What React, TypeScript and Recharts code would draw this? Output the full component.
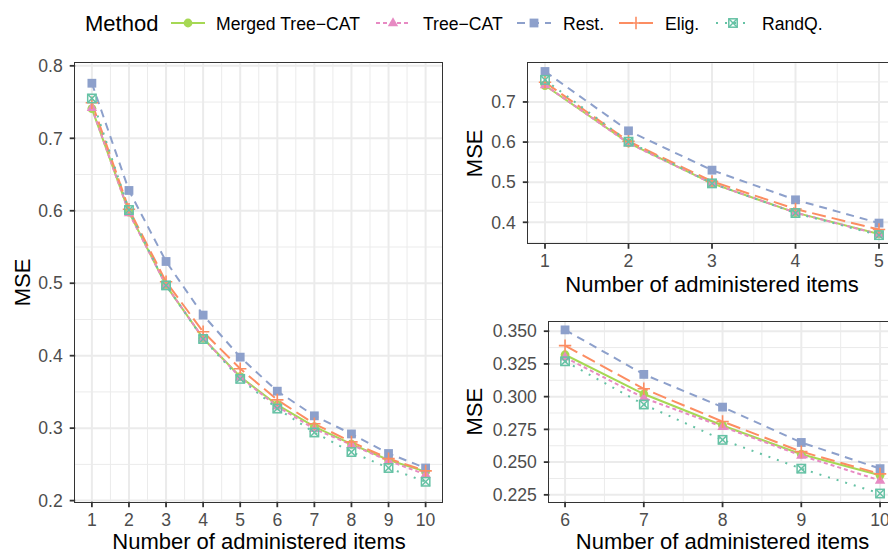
import React from "react";
import { LineChart, Line, XAxis, YAxis, CartesianGrid } from "recharts";

// number of administered items
const items = [1, 2, 3, 4, 5, 6, 7, 8, 9, 10];

// MSE per method
const mergedTreeCat = [0.741, 0.598, 0.497, 0.424, 0.371, 0.332, 0.302, 0.278, 0.256, 0.24];
const treeCat = [0.742, 0.597, 0.497, 0.424, 0.37, 0.33, 0.299, 0.277, 0.255, 0.236];
const rest = [0.776, 0.628, 0.53, 0.456, 0.398, 0.351, 0.317, 0.292, 0.265, 0.245];
const elig = [0.749, 0.602, 0.502, 0.433, 0.382, 0.339, 0.306, 0.281, 0.258, 0.241];
const randQ = [0.755, 0.601, 0.497, 0.423, 0.368, 0.327, 0.294, 0.267, 0.245, 0.226];

// ticks
const leftYTicks = [0.2, 0.3, 0.4, 0.5, 0.6, 0.7, 0.8];
const leftYMinor = [0.25, 0.35, 0.45, 0.55, 0.65, 0.75];
const leftXMinor = [1.5, 2.5, 3.5, 4.5, 5.5, 6.5, 7.5, 8.5, 9.5];
const topXTicks = [1, 2, 3, 4, 5];
const topXMinor = [1.5, 2.5, 3.5, 4.5];
const topYTicks = [0.4, 0.5, 0.6, 0.7];
const topYMinor = [0.35, 0.45, 0.55, 0.65, 0.75];
const bottomXTicks = [6, 7, 8, 9, 10];
const bottomXMinor = [6.5, 7.5, 8.5, 9.5];
const bottomYTicks = [0.225, 0.25, 0.275, 0.3, 0.325, 0.35];
const bottomYMinor = [0.2375, 0.2625, 0.2875, 0.3125, 0.3375];

const series = [
  { key: "merged", name: "Merged Tree\u2212CAT", color: "#A6D854", dash: undefined, shape: "circle" },
  { key: "tree", name: "Tree\u2212CAT", color: "#E78AC3", dash: "4 3", shape: "triangle" },
  { key: "rest", name: "Rest.", color: "#8DA0CB", dash: "8 6", shape: "square" },
  { key: "elig", name: "Elig.", color: "#FC8D62", dash: "14 6", shape: "plus" },
  { key: "randq", name: "RandQ.", color: "#66C2A5", dash: "2 7", shape: "squarex" },
];

const rows = items.map((x, i) => ({
  x,
  merged: mergedTreeCat[i],
  tree: treeCat[i],
  rest: rest[i],
  elig: elig[i],
  randq: randQ[i],
}));

const FONT = '"Liberation Sans", Arial, Helvetica, sans-serif';

// ggplot-like 5% expansion
function expand(vals: number[]): [number, number] {
  const lo = Math.min(...vals);
  const hi = Math.max(...vals);
  const pad = (hi - lo) * 0.05;
  return [lo - pad, hi + pad];
}

function Marker({ shape, cx, cy, color }: any) {
  if (shape === "circle") return <circle cx={cx} cy={cy} r={4.4} fill={color} />;
  if (shape === "triangle")
    return (
      <polygon
        points={`${cx},${cy - 5.8} ${cx - 5.2},${cy + 3.2} ${cx + 5.2},${cy + 3.2}`}
        fill={color}
      />
    );
  if (shape === "square")
    return <rect x={cx - 4.4} y={cy - 4.4} width={8.8} height={8.8} fill={color} />;
  if (shape === "plus")
    return (
      <g stroke={color} strokeWidth={1.6}>
        <line x1={cx - 6.2} y1={cy} x2={cx + 6.2} y2={cy} />
        <line x1={cx} y1={cy - 6.2} x2={cx} y2={cy + 6.2} />
      </g>
    );
  return (
    <g stroke={color} strokeWidth={1.5} fill="none">
      <rect x={cx - 4.2} y={cy - 4.2} width={8.4} height={8.4} />
      <line x1={cx - 4.2} y1={cy - 4.2} x2={cx + 4.2} y2={cy + 4.2} />
      <line x1={cx - 4.2} y1={cy + 4.2} x2={cx + 4.2} y2={cy - 4.2} />
    </g>
  );
}

const makeDot = (shape: string, color: string) => (props: any) => {
  const { cx, cy, index } = props;
  if (cx == null || cy == null) return <g key={`e-${shape}-${index}`} />;
  return (
    <g key={`${shape}-${index}`}>
      <Marker shape={shape} cx={cx} cy={cy} color={color} />
    </g>
  );
};

function Panel({ data, box, plot, xTicks, xMinor, yTicks, yMinor, digits }: any) {
  const xDomain = expand(data.map((d: any) => d.x));
  const yDomain = expand(
    data.flatMap((d: any) => series.map((s) => d[s.key] as number))
  );
  const tickStyle = { fill: "#4D4D4D", fontSize: 17.6, fontFamily: FONT };
  return (
    <>
      <div style={{ position: "absolute", left: box.left, top: box.top }}>
        <LineChart
          width={box.width}
          height={box.height}
          data={data}
          margin={{ top: plot.y0 - box.top, right: box.left + box.width - plot.x1, bottom: 0, left: 0 }}
        >
          <CartesianGrid horizontalValues={yMinor} verticalValues={xMinor} stroke="#EBEBEB" strokeWidth={1} />
          <CartesianGrid horizontalValues={yTicks} verticalValues={xTicks} stroke="#EBEBEB" strokeWidth={2} />
          <XAxis
            dataKey="x"
            type="number"
            domain={xDomain}
            ticks={xTicks}
            interval={0}
            allowDataOverflow
            height={box.top + box.height - plot.y1}
            axisLine={false}
            tickLine={{ stroke: "#333333", strokeWidth: 1.8 }}
            tickSize={5.5}
            tickMargin={6}
            tick={tickStyle}
          />
          <YAxis
            type="number"
            domain={yDomain}
            ticks={yTicks}
            interval={0}
            allowDataOverflow
            width={plot.x0 - box.left}
            axisLine={false}
            tickLine={{ stroke: "#333333", strokeWidth: 1.8 }}
            tickSize={5.5}
            tickMargin={7}
            tick={tickStyle}
            tickFormatter={(v: number) => v.toFixed(digits)}
          />
          {series.map((s) => (
            <Line
              key={`l-${s.key}`}
              dataKey={s.key}
              stroke={s.color}
              strokeWidth={2}
              strokeDasharray={s.dash}
              dot={false}
              activeDot={false}
              isAnimationActive={false}
            />
          ))}
          {series.map((s) => (
            <Line
              key={`p-${s.key}`}
              dataKey={s.key}
              stroke="none"
              dot={makeDot(s.shape, s.color)}
              activeDot={false}
              isAnimationActive={false}
            />
          ))}
        </LineChart>
      </div>
      <div
        style={{
          position: "absolute",
          left: plot.x0 - 0.9,
          top: plot.y0 - 0.9,
          width: plot.x1 - plot.x0 + 1.8,
          height: plot.y1 - plot.y0 + 1.8,
          border: "1.8px solid #333333",
          boxSizing: "border-box",
          pointerEvents: "none",
        }}
      />
    </>
  );
}

const legendKeys = [188, 393, 534, 636, 733];
const legendLabels = [216, 423, 563, 665, 762];

export default function App() {
  return (
    <div
      style={{
        position: "fixed",
        left: 0,
        top: 0,
        width: 888,
        height: 554,
        overflow: "hidden",
        background: "#ffffff",
        fontFamily: FONT,
      }}
    >
      <Panel
        data={rows}
        box={{ left: 0, top: 40, width: 460, height: 514 }}
        plot={{ x0: 75.2, x1: 442.3, y0: 63.3, y1: 501.7 }}
        xTicks={items}
        xMinor={leftXMinor}
        yTicks={leftYTicks}
        yMinor={leftYMinor}
        digits={1}
      />
      <Panel
        data={rows.slice(0, 5)}
        box={{ left: 460, top: 40, width: 440, height: 250 }}
        plot={{ x0: 528.3, x1: 895.7, y0: 63.3, y1: 243.3 }}
        xTicks={topXTicks}
        xMinor={topXMinor}
        yTicks={topYTicks}
        yMinor={topYMinor}
        digits={1}
      />
      <Panel
        data={rows.slice(5)}
        box={{ left: 460, top: 300, width: 440, height: 254 }}
        plot={{ x0: 549.3, x1: 895.8, y0: 321.7, y1: 501.7 }}
        xTicks={bottomXTicks}
        xMinor={bottomXMinor}
        yTicks={bottomYTicks}
        yMinor={bottomYMinor}
        digits={3}
      />
      <svg
        width={888}
        height={554}
        style={{ position: "absolute", left: 0, top: 0, pointerEvents: "none" }}
        fontFamily={FONT}
      >
        <text x={85} y={31} fontSize={22} fill="#000">Method</text>
        {series.map((s, i) => (
          <g key={s.key}>
            <line
              x1={legendKeys[i] - 17}
              x2={legendKeys[i] + 17}
              y1={23}
              y2={23}
              stroke={s.color}
              strokeWidth={2}
              strokeDasharray={s.dash}
            />
            <Marker shape={s.shape} cx={legendKeys[i]} cy={23} color={s.color} />
            <text x={legendLabels[i]} y={29.5} fontSize={17.6} fill="#000">{s.name}</text>
          </g>
        ))}
        <text x={259} y={549.3} fontSize={22} textAnchor="middle" fill="#000">Number of administered items</text>
        <text x={712} y={292} fontSize={22} textAnchor="middle" fill="#000">Number of administered items</text>
        <text x={722.5} y={549.3} fontSize={22} textAnchor="middle" fill="#000">Number of administered items</text>
        <text transform="translate(29.5,282.5) rotate(-90)" fontSize={22} textAnchor="middle" fill="#000">MSE</text>
        <text transform="translate(482,153.3) rotate(-90)" fontSize={22} textAnchor="middle" fill="#000">MSE</text>
        <text transform="translate(482,411.7) rotate(-90)" fontSize={22} textAnchor="middle" fill="#000">MSE</text>
      </svg>
    </div>
  );
}
